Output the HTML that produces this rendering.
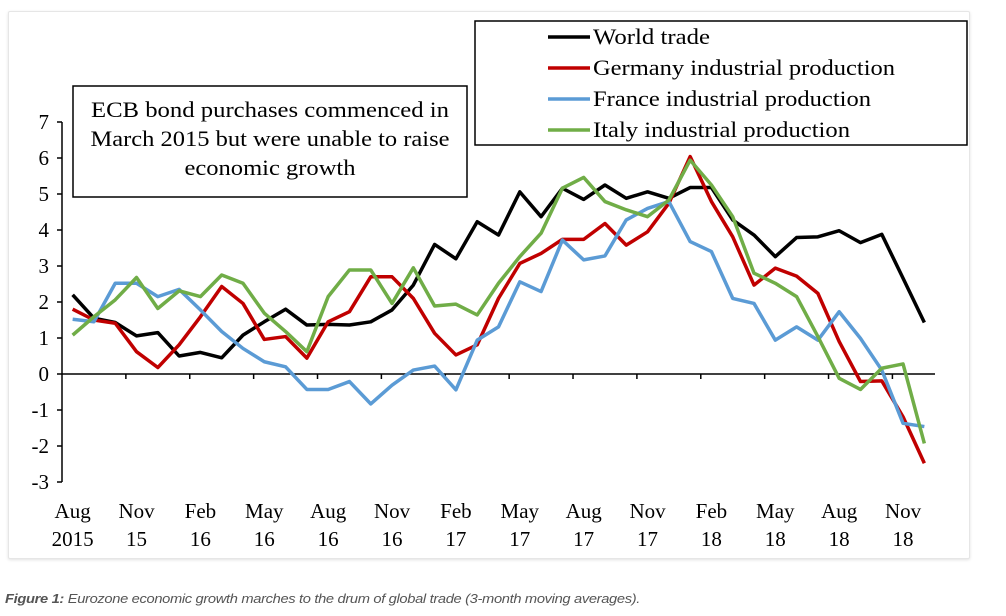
<!DOCTYPE html>
<html><head><meta charset="utf-8">
<style>
body{margin:0;width:1006px;height:616px;background:#fff;overflow:hidden;font-family:"Liberation Serif",serif;}
#card{position:absolute;left:8px;top:11px;width:960px;height:546px;border:1px solid #e6e6e6;box-shadow:0 1px 3px rgba(0,0,0,0.12);background:#fff;border-radius:2px}
#cap{position:absolute;left:5px;top:591px;font-family:"Liberation Sans",sans-serif;font-style:italic;font-size:13px;color:#555;letter-spacing:-0.3px;transform:scaleX(1.13);transform-origin:0 0;white-space:nowrap}
</style></head><body>
<div id="card"></div>
<svg id="chart" width="1006" height="616" style="position:absolute;left:0;top:0"></svg>
<div id="cap"><b>Figure 1:</b> Eurozone economic growth marches to the drum of global trade (3-month moving averages).</div>
<script>
const worldTrade=[2.2,1.55,1.43,1.06,1.15,0.5,0.6,0.45,1.08,1.45,1.8,1.36,1.38,1.36,1.45,1.78,2.47,3.6,3.2,4.23,3.86,5.06,4.37,5.16,4.85,5.25,4.88,5.06,4.88,5.18,5.18,4.28,3.86,3.26,3.79,3.81,3.98,3.65,3.88,2.66,1.43];
const germany=[1.8,1.5,1.41,0.62,0.18,0.81,1.59,2.43,1.96,0.96,1.04,0.44,1.45,1.73,2.7,2.7,2.1,1.13,0.53,0.81,2.1,3.07,3.35,3.74,3.74,4.18,3.58,3.95,4.74,6.04,4.79,3.81,2.47,2.94,2.72,2.24,0.9,-0.21,-0.19,-1.19,-2.48];
const france=[1.52,1.45,2.52,2.52,2.15,2.35,1.78,1.18,0.71,0.34,0.2,-0.43,-0.43,-0.21,-0.83,-0.31,0.11,0.22,-0.44,0.94,1.31,2.56,2.29,3.72,3.17,3.28,4.28,4.6,4.79,3.68,3.4,2.1,1.96,0.94,1.31,0.94,1.73,0.99,0.11,-1.37,-1.46];
const italy=[1.08,1.59,2.06,2.68,1.82,2.31,2.15,2.75,2.52,1.69,1.18,0.62,2.15,2.89,2.89,1.96,2.95,1.89,1.94,1.64,2.52,3.26,3.91,5.16,5.46,4.79,4.56,4.37,4.83,5.94,5.25,4.37,2.8,2.52,2.15,1.04,-0.12,-0.43,0.16,0.28,-1.93];
const xLabels1=["Aug","Nov","Feb","May","Aug","Nov","Feb","May","Aug","Nov","Feb","May","Aug","Nov"];
const xLabels2=["2015","15","16","16","16","16","17","17","17","17","18","18","18","18"];
const yTicks=[7,6,5,4,3,2,1,0,-1,-2,-3];
const seriesNames=["World trade","Germany industrial production","France industrial production","Italy industrial production"];

const NS="http://www.w3.org/2000/svg";
const svg=document.getElementById('chart');
const X0=62,CW=(935-62)/41;
const x=i=>X0+CW*(i+0.5);
const y=v=>374-36*v;
function mk(t,a){const e=document.createElementNS(NS,t);for(const k in a)e.setAttribute(k,a[k]);svg.appendChild(e);return e;}

let ax=mk('line',{x1:X0,y1:y(7),x2:X0,y2:y(-3),stroke:'#000','stroke-width':1.5});


yTicks.forEach(v=>{
  const t=mk('line',{x1:X0-5,y1:y(v),x2:X0,y2:y(v),stroke:'#000','stroke-width':1.5});
  
  
  const l=mk('text',{x:X0-13,y:y(v)+7,'text-anchor':'end','font-size':21,'font-family':'"Liberation Serif",serif'});
  l.textContent=v;
  
  
});
let xa=mk('line',{x1:X0,y1:y(0),x2:X0+CW*41,y2:y(0),stroke:'#000','stroke-width':1.5});


xLabels1.forEach((s,j)=>{
  const i=j*3;
  if(j>0){const t=mk('line',{x1:X0+CW*i,y1:y(0),x2:X0+CW*i,y2:y(0)+5,stroke:'#000','stroke-width':1.5});
  
  }
  const a=mk('text',{x:x(i),y:518,'text-anchor':'middle','font-size':21,'font-family':'"Liberation Serif",serif'});
  a.textContent=s;
  
  
  const b=mk('text',{x:x(i),y:546,'text-anchor':'middle','font-size':21,'font-family':'"Liberation Serif",serif'});
  b.textContent=xLabels2[j];
  
  
});
const data=[worldTrade,germany,france,italy];
const colors=['#000000','#c00000','#5b9bd5','#70ad47'];
const snames=['world-trade-line','germany-line','france-line','italy-line'];
data.forEach((d,s)=>{
  const p=mk('polyline',{points:d.map((v,i)=>x(i)+','+y(v)).join(' '),fill:'none',stroke:colors[s],'stroke-width':3.5,'stroke-linejoin':'round'});
  
  
});
let ab=mk('rect',{x:73,y:86,width:394,height:111,fill:'#fff',stroke:'#000','stroke-width':1.5});


const annLines=["ECB bond purchases commenced in","March 2015  but were unable to raise","economic growth"];
const annW=[358,359,171];
annLines.forEach((s,k)=>{
  const t=mk('text',{x:270,y:117+k*29,'text-anchor':'middle','font-size':22,'font-family':'"Liberation Serif",serif',textLength:annW[k],lengthAdjust:'spacingAndGlyphs'});
  t.textContent=s;
  
  
});
let lb=mk('rect',{x:475,y:21,width:492,height:124,fill:'#fff',stroke:'#000','stroke-width':1.5});


const legW=[117,302,278,257];
seriesNames.forEach((s,k)=>{
  const ly=37+k*31;
  const l=mk('line',{x1:548,y1:ly,x2:590,y2:ly,stroke:colors[k],'stroke-width':3.5});
  
  
  const t=mk('text',{x:593,y:ly+7,'font-size':22,'font-family':'"Liberation Serif",serif',textLength:legW[k],lengthAdjust:'spacingAndGlyphs'});
  t.textContent=s;
  
  
});
</script>
</body></html>
